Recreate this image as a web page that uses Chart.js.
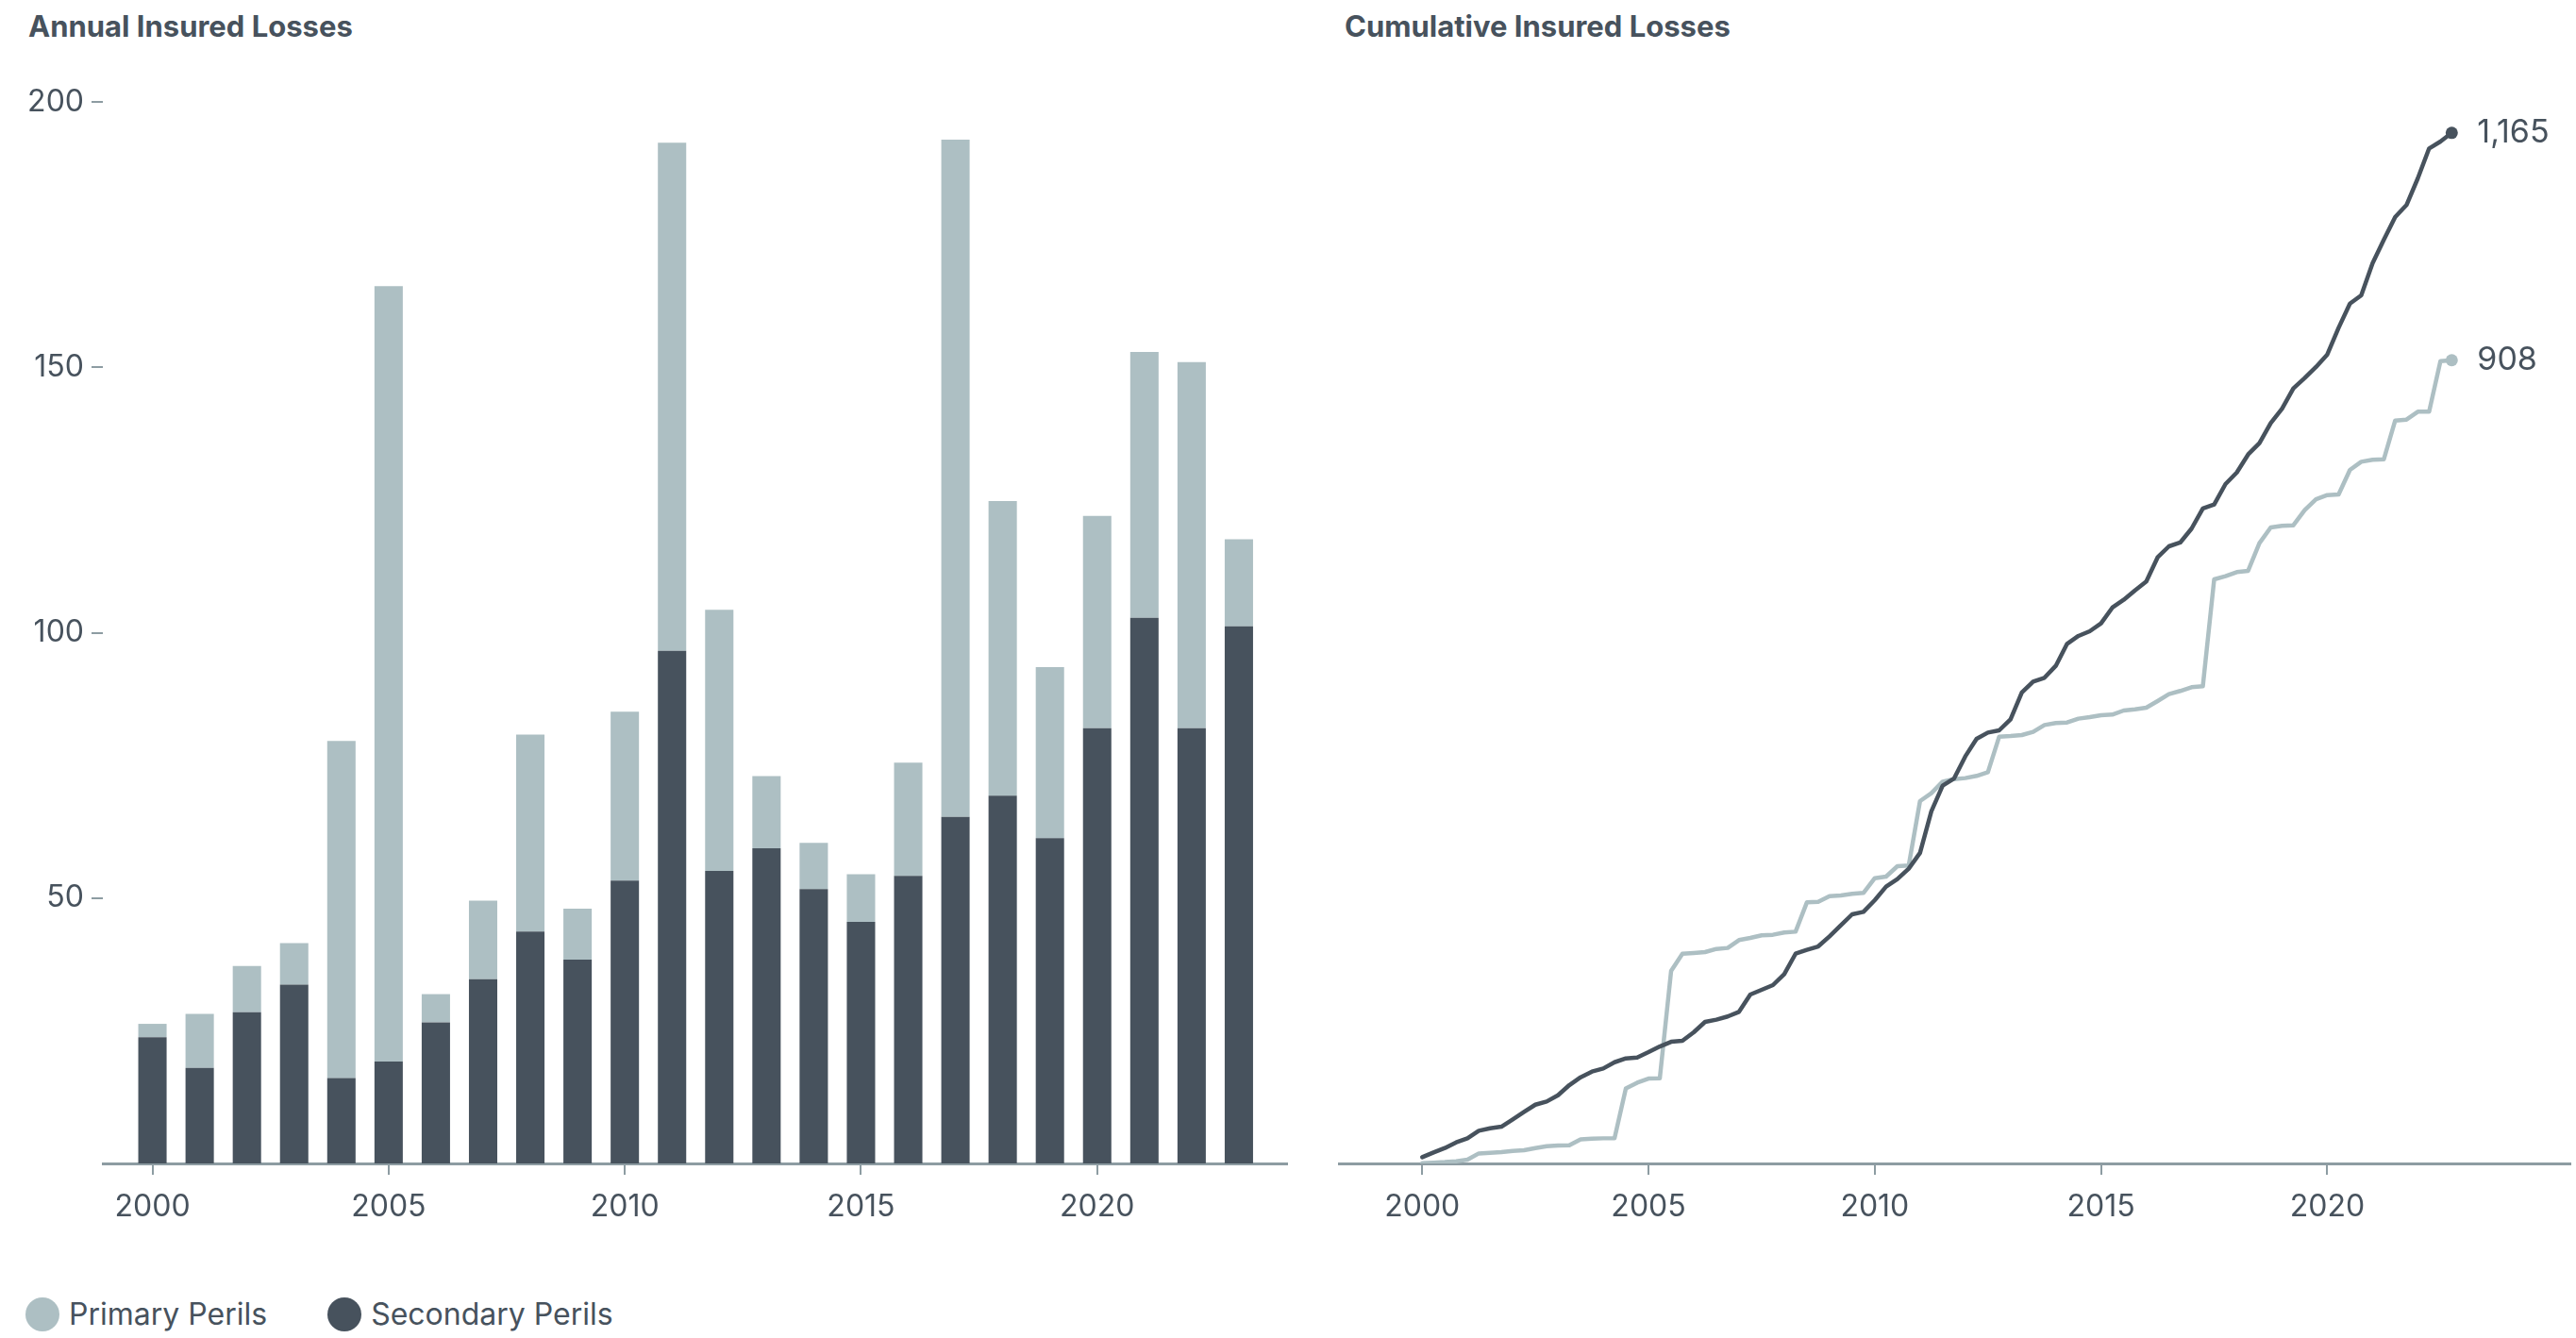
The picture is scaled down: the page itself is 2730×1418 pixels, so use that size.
<!DOCTYPE html>
<html>
<head>
<meta charset="utf-8">
<script src="https://cdn.jsdelivr.net/npm/chart.js@4.4.1/dist/chart.umd.min.js"></script>
<style>
  html, body { margin: 0; padding: 0; background: #fff; }
  body {
    width: 2730px; height: 1418px; position: relative; overflow: hidden;
    font-family: Inter, "Liberation Sans", sans-serif; color: #47525d;
  }
  .title { position: absolute; top: 10px; font-size: 31px; line-height: 36px; font-weight: 700; }
  canvas { position: absolute; top: 0; }
  .legend { position: absolute; left: 27px; top: 1375px; display: flex; font-size: 32px; line-height: 36px; }
  .legend span { display: flex; align-items: center; margin-right: 64px; }
  .legend i { display: inline-block; width: 36px; height: 36px; border-radius: 50%; margin-right: 10px; }
</style>
</head>
<body>
<div class="title" style="left:30px">Annual Insured Losses</div>
<div class="title" style="left:1425px">Cumulative Insured Losses</div>
<canvas id="annual" width="1400" height="1330" style="left:0"></canvas>
<canvas id="cumulative" width="1330" height="1330" style="left:1400px"></canvas>
<div class="legend">
  <span><i style="background:#adbfc3"></i>Primary Perils</span>
  <span><i style="background:#47525d"></i>Secondary Perils</span>
</div>
<script>
// annual losses by year, stacked
const years = [2000, 2001, 2002, 2003, 2004, 2005, 2006, 2007, 2008, 2009, 2010, 2011,
               2012, 2013, 2014, 2015, 2016, 2017, 2018, 2019, 2020, 2021, 2022, 2023];
const secondary = [23.8, 18.0, 28.5, 33.7, 16.1, 19.2, 26.6, 34.7, 43.7, 38.4, 53.3, 96.6,
                   55.1, 59.4, 51.7, 45.5, 54.2, 65.3, 69.3, 61.3, 82.0, 102.8, 82.0, 101.2];
const primary = [2.5, 10.2, 8.7, 7.8, 63.5, 146.1, 5.3, 14.8, 37.1, 9.6, 31.8, 95.7,
                 49.2, 13.6, 8.7, 9.0, 21.3, 127.6, 55.5, 32.2, 40.0, 50.1, 69.0, 16.4];

// running totals, one value per quarter from Q1 2000
const firstYear = 2000;
const secondaryCum = [
  7.0, 12.4, 17.4, 23.8, 28.4, 36.9, 39.8, 41.5, 49.7, 58.2, 66.4, 70.0,
  77.1, 88.5, 97.4, 103.8, 107.3, 114.4, 118.7, 119.8, 125.8, 132.2, 137.5, 138.7,
  148.3, 160.0, 162.5, 166.1, 171.4, 190.9, 196.3, 201.6, 214.0, 237.1, 241.4, 245.3,
  256.7, 269.2, 281.6, 284.4, 297.6, 312.9, 321.4, 333.2, 351.0, 398.0, 427.0, 435.0,
  460.1, 480.0, 487.1, 489.6, 502.0, 532.3, 544.7, 549.0, 562.5, 587.4, 596.3, 601.6,
  610.5, 628.3, 637.1, 647.8, 657.8, 685.1, 697.6, 701.9, 717.6, 740.3, 744.9, 768.0,
  781.1, 801.4, 814.2, 837.0, 853.3, 876.1, 887.8, 900.3, 914.5, 944.7, 972.0, 981.3,
  1017.6, 1044.3, 1069.9, 1083.4, 1113.6, 1147.4, 1155.2, 1165
];
const primaryCum = [
  0.3, 0.8, 1.5, 2.5, 4.2, 11.3, 12.0, 12.7, 14.1, 14.9, 17.4, 19.5,
  20.2, 20.5, 27.3, 28.0, 28.4, 28.6, 84.9, 91.3, 95.9, 96.2, 217.5, 237.1,
  237.9, 238.9, 242.5, 243.6, 252.5, 254.9, 257.8, 258.5, 261.0, 262.0, 295.1, 295.8,
  302.2, 302.9, 304.7, 305.8, 322.5, 324.3, 336.0, 336.7, 409.6, 418.5, 431.6, 434.5,
  435.6, 438.1, 442.3, 482.5, 483.2, 484.3, 487.8, 495.6, 497.8, 498.5, 502.8, 504.5,
  506.7, 507.4, 512.0, 513.4, 515.2, 522.7, 530.5, 534.1, 538.3, 539.4, 660.3, 663.8,
  668.5, 669.9, 701.2, 718.9, 720.7, 721.4, 738.5, 750.9, 755.5, 756.3, 784.0, 793.2,
  795.4, 796.1, 839.8, 840.9, 849.8, 849.8, 907.0, 908
];

const yearTicks = [2000, 2005, 2010, 2015, 2020];
const annualTicks = [50, 100, 150, 200];

const DARK = '#47525d';
const LIGHT = '#adbfc3';
const AXIS = '#8d9ca2';
const TEXT = '#47525d';
const FONT = 'Inter, "Liberation Sans", sans-serif';

const tickFont = { family: FONT, size: 32 };
const fixedTicks = list => scale => { scale.ticks = list.map(v => ({ value: v })); };

function xAxis(min, max) {
  return {
    type: 'linear', min, max, offset: false,
    afterBuildTicks: fixedTicks(yearTicks),
    afterFit: s => { s.height = 97; },
    border: { display: true, color: AXIS, width: 3 },
    grid: { offset: false, drawOnChartArea: false, tickLength: 12, color: AXIS, lineWidth: 2 },
    ticks: { color: TEXT, font: tickFont, padding: 15, maxRotation: 0, callback: v => String(v) }
  };
}

const common = {
  responsive: false,
  animation: false,
  devicePixelRatio: 1,
  events: [],
};

new Chart(document.getElementById('annual'), {
  type: 'bar',
  data: {
    datasets: [
      { label: 'Secondary Perils', data: years.map((y, i) => ({ x: y, y: secondary[i] })), backgroundColor: DARK },
      { label: 'Primary Perils', data: years.map((y, i) => ({ x: y, y: primary[i] })), backgroundColor: LIGHT }
    ]
  },
  options: {
    ...common,
    layout: { padding: { left: 30, top: 108, right: 36, bottom: 0 } },
    plugins: { legend: { display: false }, tooltip: { enabled: false } },
    datasets: { bar: { barPercentage: 0.6, categoryPercentage: 1, borderWidth: 0 } },
    scales: {
      x: { ...xAxis(1998.95, 2024.02), stacked: true },
      y: {
        stacked: true, min: 0, max: 200,
        afterBuildTicks: fixedTicks(annualTicks),
        afterFit: s => { s.width = 79; },
        border: { display: false },
        grid: { drawOnChartArea: false, tickLength: 12, color: AXIS, lineWidth: 2 },
        ticks: { color: TEXT, font: tickFont, padding: 8 }
      }
    }
  }
});

// value label next to the last point of each line
const endLabels = {
  id: 'endLabels',
  afterDatasetsDraw(chart) {
    const ctx = chart.ctx;
    ctx.save();
    ctx.font = '34px ' + FONT;
    ctx.fillStyle = TEXT;
    ctx.textBaseline = 'middle';
    chart.data.datasets.forEach((ds, i) => {
      const pts = chart.getDatasetMeta(i).data;
      const last = pts[pts.length - 1];
      const v = ds.data[ds.data.length - 1].y;
      ctx.fillText(v.toLocaleString('en-US'), last.x + 27, last.y);
    });
    ctx.restore();
  }
};

const lastDot = ctx => ctx.dataIndex === ctx.dataset.data.length - 1 ? 6.5 : 0;

new Chart(document.getElementById('cumulative'), {
  type: 'line',
  data: {
    datasets: [
      {
        label: 'Secondary Perils',
        data: secondaryCum.map((v, i) => ({ x: firstYear + i / 4, y: v })),
        borderColor: DARK, backgroundColor: DARK
      },
      {
        label: 'Primary Perils',
        data: primaryCum.map((v, i) => ({ x: firstYear + i / 4, y: v })),
        borderColor: LIGHT, backgroundColor: LIGHT
      }
    ]
  },
  options: {
    ...common,
    layout: { padding: { left: 19, top: 108, right: 0, bottom: 0 } },
    plugins: { legend: { display: false }, tooltip: { enabled: false } },
    elements: {
      line: { borderWidth: 4.5, tension: 0, borderJoinStyle: 'round', borderCapStyle: 'round' },
      point: { radius: lastDot, borderWidth: 0 }
    },
    scales: {
      x: xAxis(1998.16, 2025.36),
      y: { display: false, min: 0, max: 1200 }
    }
  },
  plugins: [endLabels]
});
</script>
</body>
</html>
